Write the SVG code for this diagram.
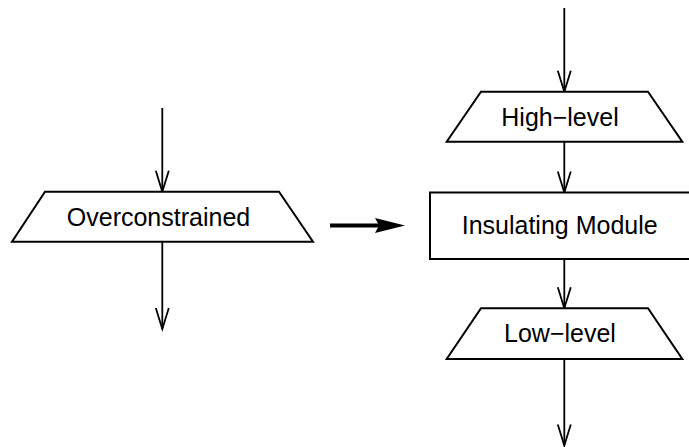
<svg xmlns="http://www.w3.org/2000/svg" width="689" height="447" viewBox="0 0 689 447">
  <style>
    .shape { fill: #ffffff; stroke: #000000; stroke-width: 2; }
    .flow { fill: none; stroke: #000000; stroke-width: 1.8; }
    .head { fill: none; stroke: #000000; stroke-width: 1.8; stroke-linejoin: miter; }
    .label { font-family: "Liberation Sans", Arial, sans-serif; font-size: 25px; fill: #000000; text-anchor: middle; }
  </style>
  <defs>
    <!-- open V arrowhead, tip at the origin, pointing down -->
    <path id="vhead" d="M -6.5 -21 L 0 0 L 6.5 -21" class="head"/>
  </defs>

  <rect width="689" height="447" fill="#ffffff"/>

  <g id="connectors">
    <!-- left column -->
    <line class="flow" x1="162.3" y1="108" x2="162.3" y2="191.7"/>
    <use href="#vhead" x="162.3" y="191.7"/>
    <line class="flow" x1="162.3" y1="241.7" x2="162.3" y2="329"/>
    <use href="#vhead" x="162.3" y="329"/>
    <!-- right column -->
    <line class="flow" x1="564.3" y1="8" x2="564.3" y2="91.7"/>
    <use href="#vhead" x="564.3" y="91.7"/>
    <line class="flow" x1="564.3" y1="141.7" x2="564.3" y2="192.5"/>
    <use href="#vhead" x="564.3" y="192.5"/>
    <line class="flow" x1="564.3" y1="259" x2="564.3" y2="308.3"/>
    <use href="#vhead" x="564.3" y="308.3"/>
    <line class="flow" x1="564.3" y1="359" x2="564.3" y2="445.5"/>
    <use href="#vhead" x="564.3" y="445.5"/>
    <!-- transformation arrow -->
    <line x1="330" y1="225.5" x2="380" y2="225.5" stroke="#000000" stroke-width="4"/>
    <polygon points="375,218 405,225.5 375,233 379,225.5" fill="#000000"/>
  </g>

  <g id="overconstrained">
    <polygon class="shape" points="45,191.7 279,191.7 313,241.7 12,241.7"/>
    <text class="label" x="158.5" y="225.5">Overconstrained</text>
  </g>

  <g id="high-level">
    <polygon class="shape" points="481,91.7 648,91.7 682.3,141.7 446.7,141.7"/>
    <text class="label" x="560" y="125.5">High−level</text>
  </g>

  <g id="insulating-module">
    <rect class="shape" x="430" y="192.5" width="268" height="66.5"/>
    <text class="label" x="559.7" y="234">Insulating Module</text>
  </g>

  <g id="low-level">
    <polygon class="shape" points="481,308.3 648,308.3 682.3,359 446.7,359"/>
    <text class="label" x="560" y="342">Low−level</text>
  </g>
</svg>
